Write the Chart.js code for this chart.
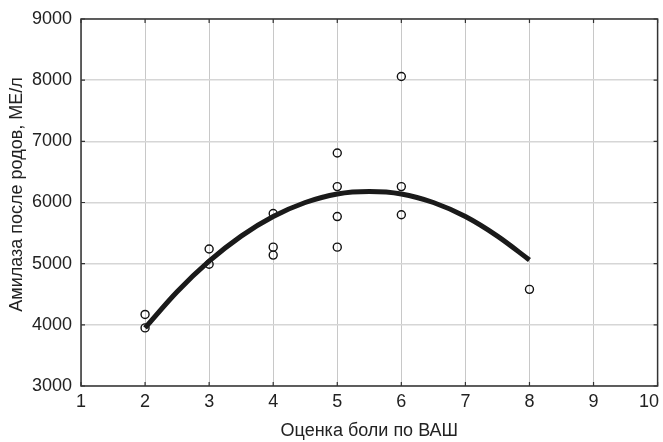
<!DOCTYPE html>
<html>
<head>
<meta charset="utf-8">
<script src="https://cdn.jsdelivr.net/npm/chart.js@4"></script>
<style>
  html, body { margin: 0; padding: 0; background: #fff; }
  #wrap { width: 663px; height: 442px; }
</style>
</head>
<body>
<div id="wrap"><canvas id="chart"></canvas></div>
<script>
'use strict';

// observations: pain score (VAS) vs amylase after delivery
const painScores = [2, 2, 3, 3, 4, 4, 4, 5, 5, 5, 5, 6, 6, 6, 8];
const amylase = [4170, 3950, 5240, 4990, 5820, 5270, 5140, 6810, 6260, 5770, 5270, 8060, 6260, 5800, 4580];

// fitted curve
const curveX = [2, 2.5, 3, 3.5, 4, 4.5, 5, 5.5, 6, 6.5, 7, 7.5, 8];
const curveY = [3950, 4540, 5040, 5450, 5770, 6000, 6140, 6180, 6140, 6000, 5770, 5450, 5060];

const xTicks = [1, 2, 3, 4, 5, 6, 7, 8, 9, 10];
const yTicks = [3000, 4000, 5000, 6000, 7000, 8000, 9000];

const yTitle = 'Амилаза после родов, МЕ/л';

const FONT = "'Liberation Sans', Arial, sans-serif";
const TEXT = '#222';

const points = painScores.map((x, i) => ({ x: x, y: amylase[i] }));
const curve = curveX.map((x, i) => ({ x: x, y: curveY[i] }));

// frame round the plot with short inner ticks, x tick labels and the y title
const framePlugin = {
  id: 'frame',
  afterDatasetsDraw(chart) {
    const { ctx, chartArea: a, scales } = chart;
    ctx.save();
    ctx.strokeStyle = '#333';
    ctx.lineWidth = 1.5;
    ctx.strokeRect(a.left, a.top, a.right - a.left, a.bottom - a.top);
    ctx.lineWidth = 1.2;
    ctx.beginPath();
    xTicks.forEach(v => {
      const px = scales.x.getPixelForValue(v);
      ctx.moveTo(px, a.bottom); ctx.lineTo(px, a.bottom - 4);
      ctx.moveTo(px, a.top); ctx.lineTo(px, a.top + 4);
    });
    yTicks.forEach(v => {
      const py = scales.y.getPixelForValue(v);
      ctx.moveTo(a.left, py); ctx.lineTo(a.left + 4, py);
      ctx.moveTo(a.right, py); ctx.lineTo(a.right - 4, py);
    });
    ctx.stroke();

    // x tick labels, the last one kept inside the canvas
    ctx.fillStyle = TEXT;
    ctx.font = '18px ' + FONT;
    ctx.textAlign = 'center';
    ctx.textBaseline = 'top';
    xTicks.forEach(v => {
      const label = String(v);
      const w = ctx.measureText(label).width;
      const px = Math.min(scales.x.getPixelForValue(v), chart.width - 4 - w / 2);
      ctx.fillText(label, px, a.bottom + 7);
    });

    // y title sits a little above the middle of the axis
    ctx.translate(17, (a.top + a.bottom) / 2 - 8);
    ctx.rotate(-Math.PI / 2);
    ctx.textBaseline = 'middle';
    ctx.fillText(yTitle, 0, 0);
    ctx.restore();
  }
};

new Chart(document.getElementById('chart'), {
  type: 'scatter',
  data: {
    datasets: [{
      type: 'line',
      data: curve,
      borderColor: '#1a1a1a',
      borderWidth: 5,
      pointRadius: 0,
      cubicInterpolationMode: 'monotone',
      fill: false,
      order: 1
    }, {
      data: points,
      pointRadius: 4,
      pointBorderWidth: 1.4,
      pointBorderColor: '#111',
      pointBackgroundColor: 'rgba(255,255,255,0)',
      order: 2
    }]
  },
  options: {
    responsive: true,
    maintainAspectRatio: false,
    animation: false,
    layout: { padding: { top: 19, right: 4, left: 0, bottom: 0 } },
    plugins: { legend: { display: false }, tooltip: { enabled: false } },
    scales: {
      x: {
        type: 'linear',
        min: 1, max: 10,
        afterFit(s) { s.height = 56; s.paddingLeft = 0; s.paddingRight = 0; },
        afterBuildTicks(s) { s.ticks = xTicks.map(v => ({ value: v })); },
        grid: { color: '#c8c8c8', lineWidth: 1, drawTicks: false },
        border: { display: false },
        ticks: { display: false },
        title: {
          display: true,
          text: 'Оценка боли по ВАШ',
          color: TEXT,
          font: { family: FONT, size: 18 },
          padding: { top: 0, bottom: 0 }
        }
      },
      y: {
        type: 'linear',
        min: 3000, max: 9000,
        afterFit(s) { s.width = 81; s.paddingTop = 0; s.paddingBottom = 0; },
        afterBuildTicks(s) { s.ticks = yTicks.map(v => ({ value: v })); },
        grid: { color: '#d6d6d6', lineWidth: 1.6, drawTicks: false },
        border: { display: false },
        ticks: { color: TEXT, font: { family: FONT, size: 18 }, padding: 9, callback: v => String(v) }
      }
    }
  },
  plugins: [framePlugin]
});
</script>
</body>
</html>
